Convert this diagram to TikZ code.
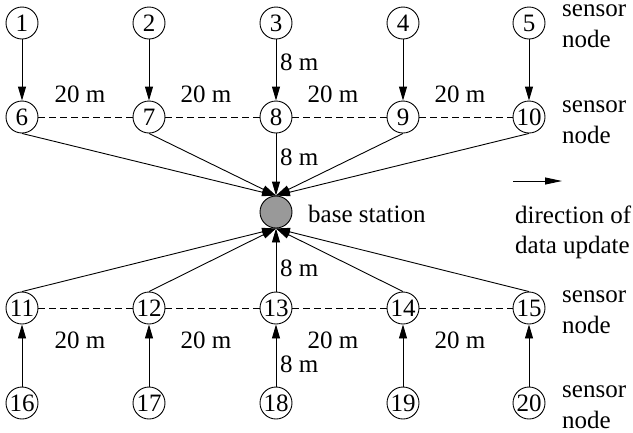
\documentclass[tikz,border=0pt]{standalone}
\usepackage{fontspec}
\setmainfont{Liberation Serif}
\newfontfamily\tms{Liberation Serif}
\usetikzlibrary{arrows.meta}
\begin{document}
\begin{tikzpicture}[x=1pt,y=-1pt,
  every node/.style={font=\tms\fontsize{25}{30}\selectfont},
  sn/.style={circle,draw,line width=0.9pt,minimum size=32pt,inner sep=0pt},
  bs/.style={circle,draw,line width=0.9pt,minimum size=32pt,inner sep=0pt,fill=black!40},
  txt/.style={anchor=base west,inner sep=0pt},
  dist/.style={anchor=base,inner sep=0pt},
  arr/.style={line width=0.9pt,-{Triangle[length=14pt,width=8pt]}},
  link/.style={line width=0.9pt,dash pattern=on 7pt off 4pt}]
\useasboundingbox (0,0) rectangle (633,432);
% sensor nodes
\foreach \i/\x in {1/22,2/149,3/276,4/403,5/529}{
  \node[sn] (n\i) at (\x,23) {\i};}
\foreach \i/\x in {6/22,7/149,8/276,9/403,10/529}{
  \node[sn] (n\i) at (\x,117) {\i};}
\foreach \i/\x in {11/22,12/149,13/276,14/403,15/529}{
  \node[sn] (n\i) at (\x,308) {\i};}
\foreach \i/\x in {16/22,17/149,18/276,19/403,20/529}{
  \node[sn] (n\i) at (\x,403) {\i};}
\node[bs] (bs) at (276,212) {};
% vertical arrows
\foreach \a/\b in {1/6,2/7,3/8,4/9,5/10}{
  \draw[arr] (n\a.south) -- (n\b.north);}
\foreach \a/\b in {16/11,17/12,18/13,19/14,20/15}{
  \draw[arr] (n\a.north) -- (n\b.south);}
% to base station
\foreach \a in {6,7,8,9,10}{
  \draw[arr] (n\a.south) -- (bs.north);}
\foreach \a in {11,12,13,14,15}{
  \draw[arr] (n\a.north) -- (bs.south);}
% dashed links
\foreach \a/\b in {6/7,7/8,8/9,9/10,11/12,12/13,13/14,14/15}{
  \draw[link] (n\a.east) -- (n\b.west);}
% distance labels
\foreach \x [count=\k] in {80,206,333,460}{
  \node[dist] (dt\k) at (\x,102) {20 m};
  \node[dist] (db\k) at (\x,348) {20 m};}
\node[txt] (e1) at (280,70) {8 m};
\node[txt] (e2) at (280,165) {8 m};
\node[txt] (e3) at (280,276) {8 m};
\node[txt] (e4) at (280,372) {8 m};
% labels
\node[txt] (bst) at (308,222) {base station};
\node[txt] (s1) at (562,16) {sensor};
\node[txt] (m1) at (562,47) {node};
\node[txt] (s2) at (562,112) {sensor};
\node[txt] (m2) at (562,143) {node};
\node[txt] (s3) at (562,302) {sensor};
\node[txt] (m3) at (562,333) {node};
\node[txt] (s4) at (562,397) {sensor};
\node[txt] (m4) at (562,428) {node};
% legend
\coordinate (la) at (513,181);
\coordinate (lb) at (562,181);
\draw[line width=0.9pt,-{Triangle[length=17pt,width=7pt]}] (la) -- (lb);
\node[txt] (d1) at (515,223) {direction of};
\node[txt] (d2) at (515,253) {data update};
\end{tikzpicture}
\end{document}
